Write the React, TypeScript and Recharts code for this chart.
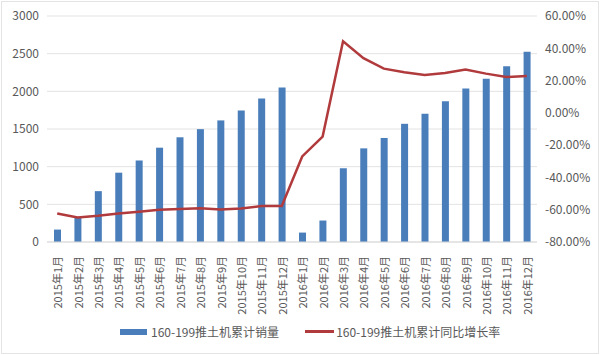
import React from 'react';
import { ComposedChart, Bar, Line, XAxis, YAxis, CartesianGrid, Legend } from 'recharts';

const months = [
  '2015年1月', '2015年2月', '2015年3月', '2015年4月', '2015年5月', '2015年6月',
  '2015年7月', '2015年8月', '2015年9月', '2015年10月', '2015年11月', '2015年12月',
  '2016年1月', '2016年2月', '2016年3月', '2016年4月', '2016年5月', '2016年6月',
  '2016年7月', '2016年8月', '2016年9月', '2016年10月', '2016年11月', '2016年12月',
];
const sales = [165, 330, 675, 920, 1082, 1252, 1390, 1498, 1614, 1744, 1905, 2052,
  125, 285, 979, 1243, 1381, 1569, 1703, 1869, 2038, 2168, 2333, 2526];
const growth = [-62.3, -64.8, -63.7, -62.3, -61.2, -60.0, -59.6, -59.1, -59.8, -59.3, -57.7, -57.7,
  -27.0, -14.7, 44.3, 33.9, 27.4, 25.1, 23.5, 24.7, 26.8, 24.3, 22.2, 22.8];
const leftTicks = [0, 500, 1000, 1500, 2000, 2500, 3000];
const rightTicks = [-80, -60, -40, -20, 0, 20, 40, 60];

const barName = '160-199推土机累计销量';
const lineName = '160-199推土机累计同比增长率';

const data = months.map((m, i) => ({ month: m, sales: sales[i], growth: growth[i] }));

const font = '"Noto Sans CJK SC", "Noto Sans", sans-serif';

function MonthTick(props: any) {
  const { x, y, payload } = props;
  return (
    <text
      x={x}
      y={y + 6}
      transform={`rotate(-90 ${x} ${y + 6})`}
      textAnchor="end"
      dominantBaseline="central"
      fill="#595959"
      fontSize={11}
      fontFamily={font}
    >
      {payload.value}
    </text>
  );
}

function LegendBox() {
  return (
    <div style={{ display: 'flex', fontFamily: font, fontSize: 12, color: '#595959', paddingLeft: 113, paddingTop: 6 }}>
      <div style={{ display: 'flex', alignItems: 'center' }}>
        <span style={{ display: 'inline-block', width: 27, height: 6, background: '#4a7ebb', marginRight: 4 }} />
        {barName}
      </div>
      <div style={{ display: 'flex', alignItems: 'center', marginLeft: 26 }}>
        <span style={{ display: 'inline-block', width: 29, height: 2.5, background: '#b13a3c', marginRight: 2 }} />
        {lineName}
      </div>
    </div>
  );
}

export default function App() {
  return (
    <div style={{ position: 'absolute', left: 0, top: 0, width: 600, height: 355, background: '#fff' }}>
      <div style={{ position: 'absolute', left: 1, top: 1, width: 596, height: 351, border: '1px solid #e4e4e4' }} />
      <ComposedChart width={600} height={355} data={data} margin={{ top: 16, right: 0, bottom: 10, left: 7 }}>
        <CartesianGrid vertical={false} stroke="#e3e3e3" yAxisId="left" />
        <XAxis
          dataKey="month"
          interval={0}
          height={75}
          tick={<MonthTick />}
          tickLine={false}
          axisLine={{ stroke: '#d9d9d9' }}
        />
        <YAxis
          yAxisId="left"
          domain={[0, 3000]}
          ticks={leftTicks}
          width={40}
          axisLine={false}
          tickLine={false}
          tick={{ fill: '#595959', fontSize: 12, fontFamily: font }}
        />
        <YAxis
          yAxisId="right"
          orientation="right"
          domain={[-80, 60]}
          ticks={rightTicks}
          width={63}
          axisLine={false}
          tickLine={false}
          tickFormatter={(v: number) => `${v.toFixed(2)}%`}
          tick={{ fill: '#595959', fontSize: 12, fontFamily: font }}
        />
        <Legend verticalAlign="bottom" height={28} content={<LegendBox />} />
        <Bar yAxisId="left" dataKey="sales" name={barName} fill="#4a7ebb" barSize={7} isAnimationActive={false} />
        <Line
          yAxisId="right"
          dataKey="growth"
          name={lineName}
          stroke="#b13a3c"
          strokeWidth={2.5}
          dot={false}
          type="linear"
          isAnimationActive={false}
        />
      </ComposedChart>
    </div>
  );
}
